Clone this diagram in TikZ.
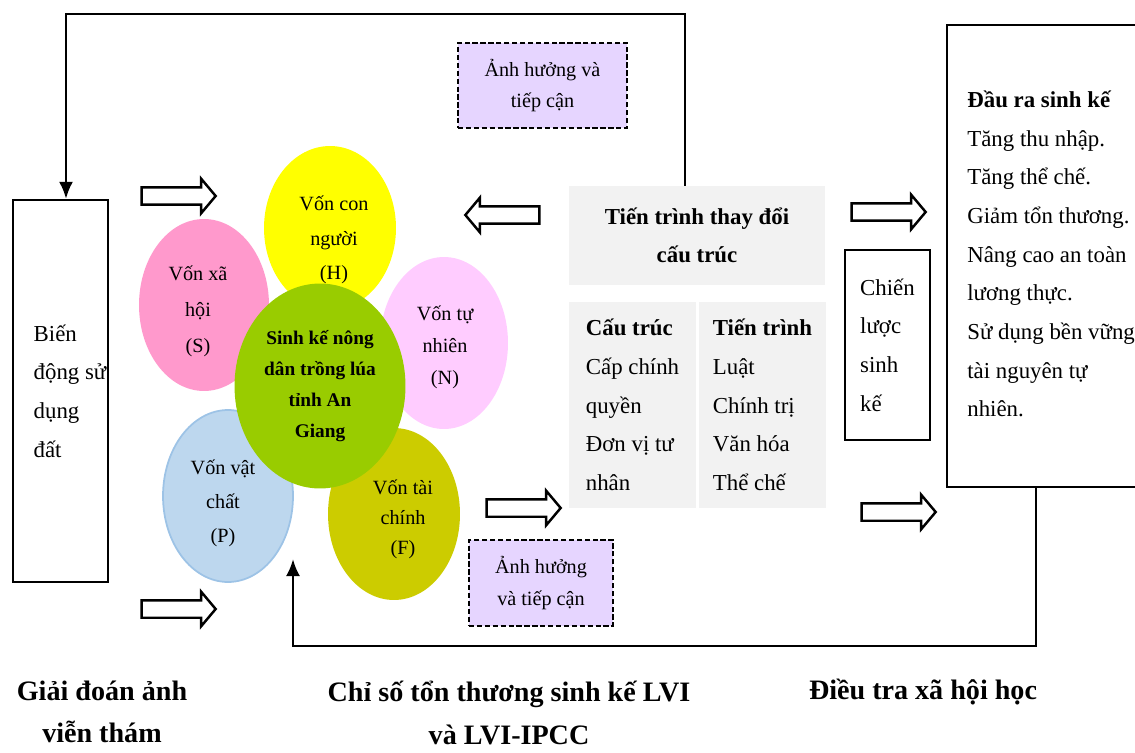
\documentclass[tikz,border=0pt]{standalone}
\usepackage{fontspec}
\setmainfont{Liberation Serif}
\usetikzlibrary{positioning}
\usetikzlibrary{shapes.geometric}
\usetikzlibrary{shapes.arrows}
\usetikzlibrary{arrows.meta}

\definecolor{capH}{HTML}{FFFF00}
\definecolor{capS}{HTML}{FF99CC}
\definecolor{capN}{HTML}{FFCCFF}
\definecolor{capP}{HTML}{BDD7EE}
\definecolor{capPline}{HTML}{9DC3E6}
\definecolor{capF}{HTML}{CCCC00}
\definecolor{core}{HTML}{99CC00}
\definecolor{lavender}{HTML}{E6D5FF}
\definecolor{grayfill}{HTML}{F2F2F2}

\tikzset{
 capital/.style={ellipse, inner sep=0pt},
 captxt/.style={align=center, inner sep=0pt, font=\fontsize{11.5}{#1}\selectfont},
 captxt/.default=19.5,
 hollow/.style={single arrow, draw=black, line width=1.4pt, fill=white, inner sep=0pt, inner ysep=0.15cm,
   single arrow head extend=0.17cm, single arrow tip angle=100, minimum height=1.48cm},
 infobox/.style={draw, line width=1.3pt, dash pattern=on 3pt off 1.5pt, fill=lavender, align=center,
   inner sep=0pt, font=\fontsize{11.5}{17.5}\selectfont},
 graybox/.style={fill=grayfill, inner sep=0pt, align=left, font=\fontsize{13}{22}\selectfont},
 plainbox/.style={draw, line width=1.3pt, inner sep=0pt},
 body/.style={font=\fontsize{13}{22}\selectfont, align=left, inner sep=0pt},
 caption/.style={font=\bfseries\fontsize{16}{24}\selectfont, align=center, inner sep=0pt},
 feedback/.style={line width=1.5pt, -{Latex[length=3.4mm, width=2.8mm]}}
}

\begin{document}
\begin{tikzpicture}[x=0.02cm, y=-0.02cm]
\useasboundingbox (0,0) rectangle (1135,753);

% left box
\node[plainbox, minimum width=1.9cm, minimum height=7.64cm] (landuse) at (60.5,391) {};
\node[body] (landtxt) at (70,391) {Biến\\động sử\\dụng\\đất};

% livelihood capitals
\node[capital, fill=capH, minimum width=2.64cm, minimum height=3.28cm] (hum) at (330,228) {};
\node[captxt=19.6] (humtxt) at (334,240) {Vốn con\\người\\(H)};
\node[capital, fill=capS, minimum width=2.6cm, minimum height=3.44cm] (soc) at (204,305) {};
\node[captxt=20.5] (soctxt) at (198,311) {Vốn xã\\hội\\(S)};
\node[capital, fill=capN, minimum width=2.56cm, minimum height=3.44cm] (nat) at (444,343) {};
\node[captxt=18.2] (nattxt) at (445,347) {Vốn tự\\nhiên\\(N)};
\node[capital, fill=capP, draw=capPline, line width=1pt, minimum width=2.6cm, minimum height=3.44cm] (phy) at (228,496) {};
\node[captxt=19.3] (phytxt) at (223,503) {Vốn vật\\chất\\(P)};
\node[capital, fill=capF, minimum width=2.64cm, minimum height=3.44cm] (fin) at (394,514) {};
\node[captxt=17.1] (fintxt) at (403,519) {Vốn tài\\chính\\(F)};
\node[capital, fill=core, align=center, font=\bfseries\fontsize{11}{17.5}\selectfont, minimum width=3.42cm, minimum height=4.1cm] (core) at (320,386) {Sinh kế nông\\dân trồng lúa\\tỉnh An\\Giang};

% structures and processes
\node[graybox, align=center, font=\bfseries\fontsize{13}{22}\selectfont, minimum width=5.14cm, minimum height=1.98cm] (change) at (697,235.5) {Tiến trình thay đổi\\cấu trúc};
\node[graybox, minimum width=2.54cm, minimum height=4.12cm] (struct) at (632.5,405) {\textbf{Cấu trúc}\\Cấp chính\\quyền\\Đơn vị tư\\nhân};
\node[graybox, minimum width=2.54cm, minimum height=4.12cm] (proc) at (762.5,405) {\textbf{Tiến trình}\\Luật\\Chính trị\\Văn hóa\\Thể chế};

\node[infobox, minimum width=3.38cm, minimum height=1.7cm] (access1) at (542.5,85.5) {Ảnh hưởng và\\tiếp cận};
\node[infobox, font=\fontsize{11.5}{18.5}\selectfont, minimum width=2.88cm, minimum height=1.72cm] (access2) at (541,583) {Ảnh hưởng\\và tiếp cận};

% strategies and outcomes
\node[plainbox, body, minimum width=1.7cm, minimum height=3.8cm] (strategy) at (887.5,345) {Chiến\\lược\\sinh\\kế};
\node[plainbox, minimum width=3.96cm, minimum height=9.24cm] (outbox) at (1046,256) {};
\node[body, anchor=west] (outtxt) at (967,254) {\textbf{Đầu ra sinh kế}\\Tăng thu nhập.\\Tăng thể chế.\\Giảm tổn thương.\\Nâng cao an toàn\\lương thực.\\Sử dụng bền vững\\tài nguyên tự\\nhiên.};

% hollow arrows
\node[hollow] (in1) at (175,196) {};
\node[hollow] (in2) at (175,609) {};
\node[hollow] (in3) at (520,508) {};
\node[hollow] (in4) at (895,512) {};
\node[hollow] (in5) at (885,212) {};
\node[hollow, shape border rotate=180] (back) at (506,215) {};

% feedback lines
\coordinate (topright) at (685,14);
\coordinate (topleft) at (66,14);
\draw[feedback] (change.north -| topright) -- (topright) -- (topleft) -- (topleft |- landuse.north);
\coordinate (botright) at (1036,646);
\coordinate (botleft) at (293,646);
\coordinate (captip) at (293,559);
\draw[feedback] (outbox.south -| botright) -- (botright) -- (botleft) -- (captip);

% methods
\node[caption] (remote) at (102,712) {Giải đoán ảnh\\viễn thám};
\node[caption, font=\bfseries\fontsize{16}{25}\selectfont] (lvi) at (509,713) {Chỉ số tổn thương sinh kế LVI\\và LVI-IPCC};
\node[caption] (survey) at (923,692) {Điều tra xã hội học};
\end{tikzpicture}
\end{document}
